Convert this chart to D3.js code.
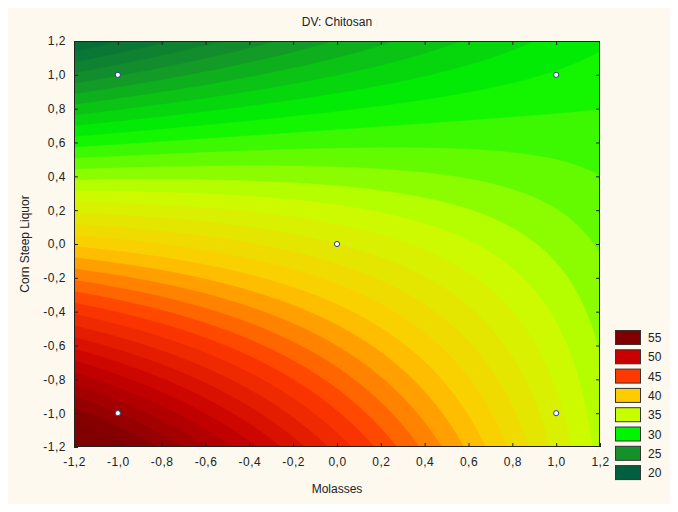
<!DOCTYPE html>
<html><head><meta charset="utf-8">
<script src="https://cdn.jsdelivr.net/npm/d3@7"></script>
<style>
html,body{margin:0;padding:0;background:#fff;}
text{font-family:"Liberation Sans",Arial,sans-serif;fill:#222;}
</style></head>
<body><svg id="chart" width="678" height="512"></svg>
<script>
// Design points (coded levels) and observed response (DV: Chitosan)
const molasses = [-1, 1, -1, 1, 0];
const cornSteepLiquor = [-1, -1, 1, 1, 0];
const chitosan = [53.0, 36.3, 24.9, 30.1, 37.0];
// Tick values and legend levels
const axisTicks = [-1.2, -1.0, -0.8, -0.6, -0.4, -0.2, 0.0, 0.2, 0.4, 0.6, 0.8, 1.0, 1.2];
const legendLevels = [55, 50, 45, 40, 35, 30, 25, 20];
const legendColors = ["#800000", "#c80000", "#ff3a00", "#ffcc00", "#c8ff00", "#00f500", "#14912a", "#005f3e"];

// Fit response surface: z = b0 + b1 x + b2 y + b12 x y + c (x^2 + y^2)  (least squares)
function fitModel() {
  const n = chitosan.length, p = 5;
  const X = molasses.map((x, i) => {
    const y = cornSteepLiquor[i];
    return [1, x, y, x * y, x * x + y * y];
  });
  const A = d3.range(p).map(() => d3.range(p).map(() => 0)), b = d3.range(p).map(() => 0);
  for (let i = 0; i < n; i++) for (let r = 0; r < p; r++) {
    b[r] += X[i][r] * chitosan[i];
    for (let c = 0; c < p; c++) A[r][c] += X[i][r] * X[i][c];
  }
  for (let k = 0; k < p; k++) {
    for (let r = k + 1; r < p; r++) {
      const f = A[r][k] / A[k][k];
      for (let c = k; c < p; c++) A[r][c] -= f * A[k][c];
      b[r] -= f * b[k];
    }
  }
  const coef = d3.range(p).map(() => 0);
  for (let k = p - 1; k >= 0; k--) {
    let s = b[k];
    for (let c = k + 1; c < p; c++) s -= A[k][c] * coef[c];
    coef[k] = s / A[k][k];
  }
  return coef;
}
const coef = fitModel();
const predict = (x, y) => coef[0] + coef[1] * x + coef[2] * y + coef[3] * x * y + coef[4] * (x * x + y * y);

const svg = d3.select("#chart");
svg.append("rect").attr("x", 8).attr("y", 8).attr("width", 662).attr("height", 496).attr("fill", "#fdf9ef");

const L = 74, R = 600, T = 41, B = 447;
const xScale = d3.scaleLinear().domain([-1.2, 1.2]).range([L, R]);
const yScale = d3.scaleLinear().domain([-1.2, 1.2]).range([B, T]);

const colorScale = d3.scaleLinear()
  .domain(legendLevels.slice().reverse())
  .range(legendColors.slice().reverse())
  .interpolate(d3.interpolateRgb)
  .clamp(true);

const N = 240;
const vals = new Array(N * N);
for (let j = 0; j < N; j++) for (let i = 0; i < N; i++) {
  const x = -1.2 + 2.4 * (i + 0.5) / N;
  const y = 1.2 - 2.4 * (j + 0.5) / N;
  vals[i + j * N] = predict(x, y);
}
const zmin = Math.floor(d3.min(vals)), zmax = Math.ceil(d3.max(vals));
const thresholds = d3.range(zmin, zmax + 1, 1);
const contours = d3.contours().size([N, N]).thresholds(thresholds)(vals);

const proj = d3.geoTransform({
  point: function(gx, gy) {
    this.stream.point(L + (R - L) * gx / N, T + (B - T) * gy / N);
  }
});
const path = d3.geoPath(proj);

svg.append("clipPath").attr("id", "clip").append("rect")
  .attr("x", L).attr("y", T).attr("width", R - L).attr("height", B - T);

const g = svg.append("g").attr("clip-path", "url(#clip)");
g.append("rect").attr("x", L).attr("y", T).attr("width", R - L).attr("height", B - T)
  .attr("fill", colorScale(zmin));
g.selectAll("path").data(contours).join("path")
  .attr("d", path)
  .attr("fill", d => colorScale(d.value + 0.5))
  .attr("stroke", d => colorScale(d.value + 0.5))
  .attr("stroke-width", 0.4);

svg.append("g").selectAll("circle").data(molasses).join("circle")
  .attr("cx", (d) => xScale(d))
  .attr("cy", (d, i) => yScale(cornSteepLiquor[i]))
  .attr("r", 2.6)
  .attr("fill", "#fff")
  .attr("stroke", "#1c3f8f")
  .attr("stroke-width", 1);

const fmt = v => d3.format(".1f")(v).replace(".", ",").replace("−", "-");
const tickLen = 4;
const axB = d3.axisBottom(xScale).tickValues(axisTicks).tickSize(-tickLen).tickPadding(10).tickFormat(fmt);
const axL = d3.axisLeft(yScale).tickValues(axisTicks).tickSize(-tickLen).tickPadding(8).tickFormat(fmt);
const axT = d3.axisTop(xScale).tickValues(axisTicks.slice(1, -1)).tickSize(-tickLen).tickFormat("");
const axR = d3.axisRight(yScale).tickValues(axisTicks.slice(1, -1)).tickSize(-tickLen).tickFormat("");

function style(sel) {
  sel.select(".domain").remove();
  sel.selectAll(".tick line").attr("stroke", "#222");
  sel.selectAll("text").attr("font-size", 12).attr("fill", "#222")
    .style("font-family", "'Liberation Sans', Arial, sans-serif").attr("letter-spacing", "0.5px");
}
svg.append("g").attr("transform", `translate(0,${B})`).call(axB).call(style);
svg.append("g").attr("transform", `translate(${L},0)`).call(axL).call(style);
svg.append("g").attr("transform", `translate(0,${T})`).call(axT).call(style);
svg.append("g").attr("transform", `translate(${R},0)`).call(axR).call(style);

svg.append("rect").attr("x", L + 0.5).attr("y", T + 0.5).attr("width", R - L - 1).attr("height", B - T - 1)
  .attr("fill", "none").attr("stroke", "#222").attr("stroke-width", 1);

svg.append("text").attr("x", 337).attr("y", 26).attr("text-anchor", "middle")
  .attr("font-size", 12).text("DV: Chitosan");
svg.append("text").attr("x", 337).attr("y", 493).attr("text-anchor", "middle")
  .attr("font-size", 12).text("Molasses");
svg.append("text").attr("transform", "translate(29,244) rotate(-90)").attr("text-anchor", "middle")
  .attr("font-size", 12).text("Corn Steep Liquor");

const lg = svg.append("g");
const items = lg.selectAll("g").data(legendLevels).join("g")
  .attr("transform", (d, i) => `translate(615,${330 + i * 19.3})`);
items.append("rect").attr("x", 0.5).attr("y", 0.5).attr("width", 25).attr("height", 14)
  .attr("fill", (d, i) => legendColors[i]).attr("stroke", "#333").attr("stroke-width", 1);
items.append("text").attr("x", 33).attr("y", 12).attr("font-size", 12).text(d => d);
</script>
</body></html>
